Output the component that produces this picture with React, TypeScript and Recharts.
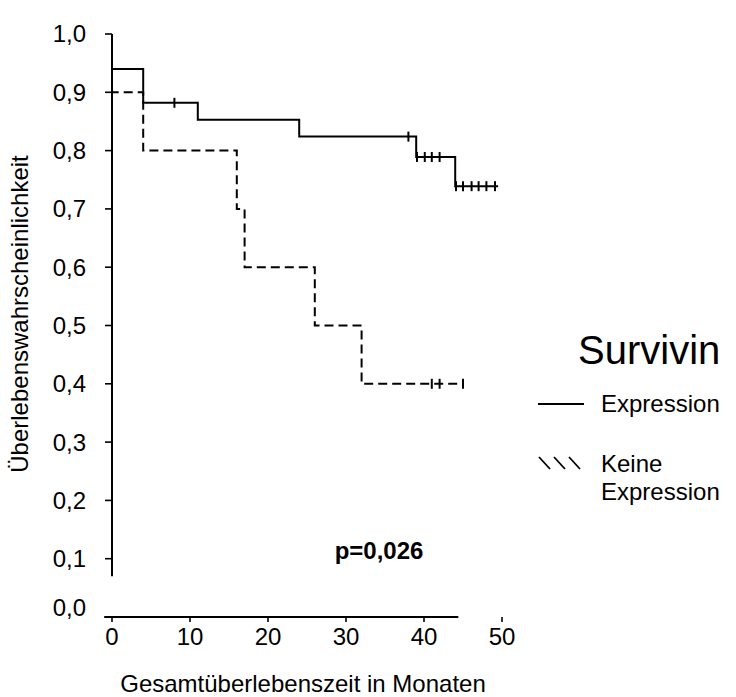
import React from "react";
import {
  ComposedChart,
  Line,
  Scatter,
  XAxis,
  YAxis,
  ReferenceLine,
  Customized,
} from "recharts";

// Kaplan-Meier steps (months, survival)
const expressionSteps = [
  { t: 0, s: 1.0 },
  { t: 0, s: 0.94 },
  { t: 4, s: 0.882 },
  { t: 11, s: 0.853 },
  { t: 24, s: 0.824 },
  { t: 39, s: 0.789 },
  { t: 44, s: 0.739 },
  { t: 49.5, s: 0.739 },
];

const keineSteps = [
  { t: 0, s: 1.0 },
  { t: 0, s: 0.9 },
  { t: 4, s: 0.8 },
  { t: 16, s: 0.7 },
  { t: 17, s: 0.6 },
  { t: 26, s: 0.5 },
  { t: 32, s: 0.4 },
  { t: 45, s: 0.4 },
];

// censored cases
const expressionCensored = [
  { t: 8, s: 0.882 },
  { t: 38, s: 0.824 },
  { t: 39.1, s: 0.789 },
  { t: 40.1, s: 0.789 },
  { t: 41, s: 0.789 },
  { t: 42, s: 0.789 },
  { t: 44.1, s: 0.739 },
  { t: 45, s: 0.739 },
  { t: 46.1, s: 0.739 },
  { t: 47, s: 0.739 },
  { t: 48, s: 0.739 },
  { t: 49.1, s: 0.739 },
];

const keineCensored = [
  { t: 41, s: 0.4 },
  { t: 42, s: 0.4 },
  { t: 45, s: 0.4 },
];

const xTicks = [0, 10, 20, 30, 40, 50];
const yTicks = [0, 0.1, 0.2, 0.3, 0.4, 0.5, 0.6, 0.7, 0.8, 0.9, 1.0];

const font = "'Liberation Sans', Arial, sans-serif";

const CensorMark = (props: any) => {
  const { cx, cy } = props;
  return <line x1={cx} y1={cy - 5} x2={cx} y2={cy + 5} stroke="#000" strokeWidth={2} />;
};

const YTick = (props: any) => {
  const { x, y, payload } = props;
  const v = payload.value as number;
  const label = v.toFixed(1).replace(".", ",");
  if (v === 0) {
    return (
      <text x={x - 26} y={y - 9} dy="0.35em" textAnchor="end" fontSize={24} fontFamily={font} fill="#000">
        {label}
      </text>
    );
  }
  return (
    <g>
      <line x1={x - 7} y1={y} x2={x} y2={y} stroke="#000" strokeWidth={1.6} />
      <text x={x - 26} y={y} dy="0.35em" textAnchor="end" fontSize={24} fontFamily={font} fill="#000">
        {label}
      </text>
    </g>
  );
};

const XTick = (props: any) => {
  const { x, y, payload } = props;
  return (
    <g>
      <line x1={x} y1={y} x2={x} y2={y + 5} stroke="#000" strokeWidth={1.6} />
      <text x={x} y={y + 28} textAnchor="middle" fontSize={24} fontFamily={font} fill="#000">
        {payload.value}
      </text>
    </g>
  );
};

const Annotations = () => (
  <g fontFamily={font} fill="#000">
    <text x={20} y={314} transform="rotate(-90 20 314)" textAnchor="middle" dy="0.35em" fontSize={24}>
      Überlebenswahrscheinlichkeit
    </text>
    <text x={303} y={692} textAnchor="middle" fontSize={24}>
      Gesamtüberlebenszeit in Monaten
    </text>
    <text x={578} y={364} fontSize={40}>
      Survivin
    </text>
    <line x1={538} y1={404} x2={584} y2={404} stroke="#000" strokeWidth={1.8} />
    <text x={601} y={412} fontSize={24}>
      Expression
    </text>
    {[0, 1, 2].map((i) => (
      <line key={i} x1={539 + i * 15} y1={457} x2={550 + i * 15} y2={469} stroke="#000" strokeWidth={1.8} />
    ))}
    <text x={601} y={472} fontSize={24}>
      Keine
    </text>
    <text x={601} y={500} fontSize={24}>
      Expression
    </text>
    <text x={379} y={559} textAnchor="middle" fontSize={24} fontWeight="bold">
      p=0,026
    </text>
  </g>
);

export default function App() {
  return (
    <div style={{ position: "absolute", left: 0, top: 0, width: 736, height: 697, background: "#fff" }}>
      <ComposedChart width={736} height={697} margin={{ top: 34, right: 234, bottom: 40, left: 52 }}>
        <XAxis
          type="number"
          dataKey="t"
          domain={[0, 50]}
          ticks={xTicks}
          axisLine={false}
          tickLine={false}
          tickSize={0}
          tickMargin={0}
          height={40}
          tick={<XTick />}
          allowDuplicatedCategory={false}
        />
        <YAxis
          type="number"
          dataKey="s"
          domain={[0, 1]}
          ticks={yTicks}
          axisLine={false}
          tickLine={false}
          tickSize={0}
          tickMargin={0}
          width={60}
          tick={<YTick />}
        />
        <ReferenceLine
          segment={[{ x: 0, y: 0.07 }, { x: 0, y: 1.0 }]}
          stroke="#000"
          strokeWidth={2}
          ifOverflow="visible"
        />
        <ReferenceLine
          segment={[{ x: -1, y: 0 }, { x: 44.4, y: 0 }]}
          stroke="#000"
          strokeWidth={2}
          ifOverflow="visible"
        />
        <Line
          data={keineSteps}
          dataKey="s"
          type="stepAfter"
          stroke="#000"
          strokeWidth={2}
          strokeDasharray="9 5"
          dot={false}
          isAnimationActive={false}
        />
        <Line
          data={expressionSteps}
          dataKey="s"
          type="stepAfter"
          stroke="#000"
          strokeWidth={2}
          dot={false}
          isAnimationActive={false}
        />
        <Scatter data={expressionCensored} dataKey="s" shape={<CensorMark />} isAnimationActive={false} />
        <Scatter data={keineCensored} dataKey="s" shape={<CensorMark />} isAnimationActive={false} />
        <Customized component={Annotations} />
      </ComposedChart>
    </div>
  );
}
